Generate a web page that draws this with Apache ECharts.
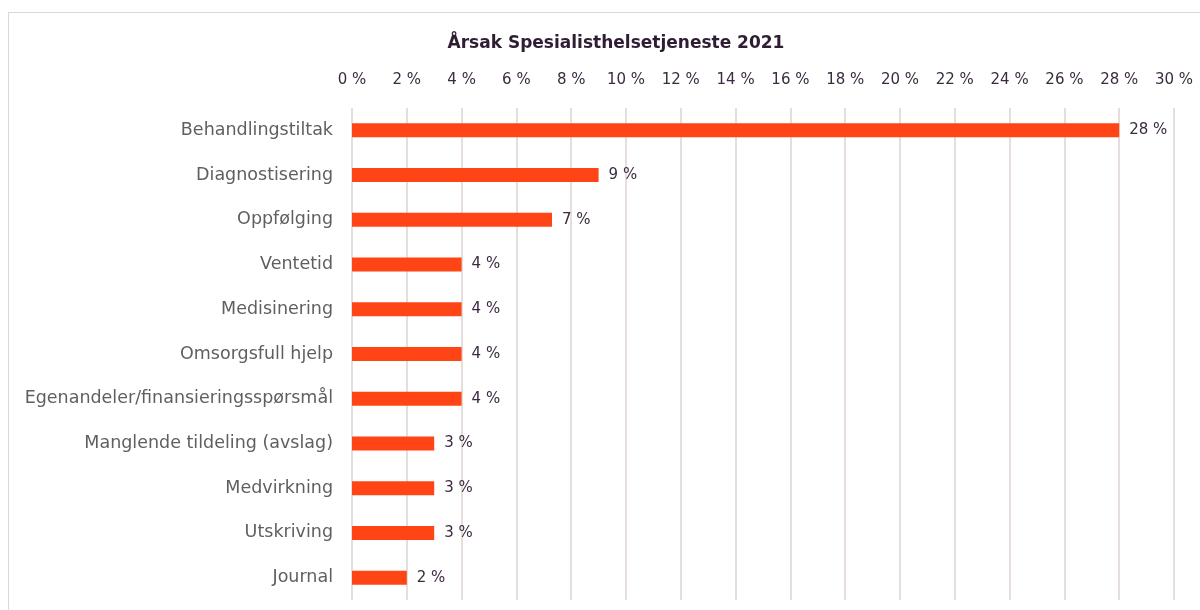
<!DOCTYPE html>
<html>
<head>
<meta charset="utf-8">
<script src="https://cdn.jsdelivr.net/npm/echarts@6/dist/echarts.min.js"></script>
<style>
html, body { margin: 0; padding: 0; background: #fff; overflow: hidden; }
.box {
  position: absolute;
  left: 8px;
  top: 12px;
  width: 1200px;
  height: 610px;
  border: 1px solid #d9d9d9;
}
#main { width: 1200px; height: 610px; }
</style>
</head>
<body>
<div class="box"><div id="main"></div></div>
<script>
var categories = [
  'Behandlingstiltak',
  'Diagnostisering',
  'Oppfølging',
  'Ventetid',
  'Medisinering',
  'Omsorgsfull hjelp',
  'Egenandeler/finansieringsspørsmål',
  'Manglende tildeling (avslag)',
  'Medvirkning',
  'Utskriving',
  'Journal'
]
var shares = [28, 9, 7.3, 4, 4, 4, 4, 3, 3, 3, 2]

var myChart = echarts.init(document.getElementById('main'))
myChart.setOption({
  animation: false,
  textStyle: { fontFamily: 'DejaVu Sans' },
  title: {
    text: 'Årsak Spesialisthelsetjeneste 2021',
    left: 602,
    top: 17,
    textAlign: 'center',
    textStyle: { fontSize: 17, fontWeight: 'bold', color: '#2e1d33', fontFamily: 'DejaVu Sans' }
  },
  grid: { left: 343, right: 35, top: 95, bottom: 23 },
  xAxis: {
    type: 'value',
    position: 'top',
    min: 0,
    max: 30,
    interval: 2,
    axisLine: { show: false },
    axisTick: { show: false },
    axisLabel: {
      margin: 20,
      fontSize: 15,
      color: '#3b2b40',
      formatter: '{value} %'
    },
    splitLine: { lineStyle: { color: '#ddd3cf', width: 1.5 } }
  },
  yAxis: {
    type: 'category',
    inverse: true,
    data: categories,
    axisLine: { show: false },
    axisTick: { show: false },
    axisLabel: { margin: 19, fontSize: 17.5, color: '#5f5f5f' }
  },
  series: [{
    type: 'bar',
    data: shares,
    barWidth: 14,
    itemStyle: { color: '#ff4416' },
    label: {
      show: true,
      position: 'right',
      distance: 10,
      fontSize: 15,
      color: '#3b2b40',
      formatter: function (p) { return Math.round(p.value) + ' %' }
    }
  }]
})
window.onresize = myChart.resize
</script>
</body>
</html>
